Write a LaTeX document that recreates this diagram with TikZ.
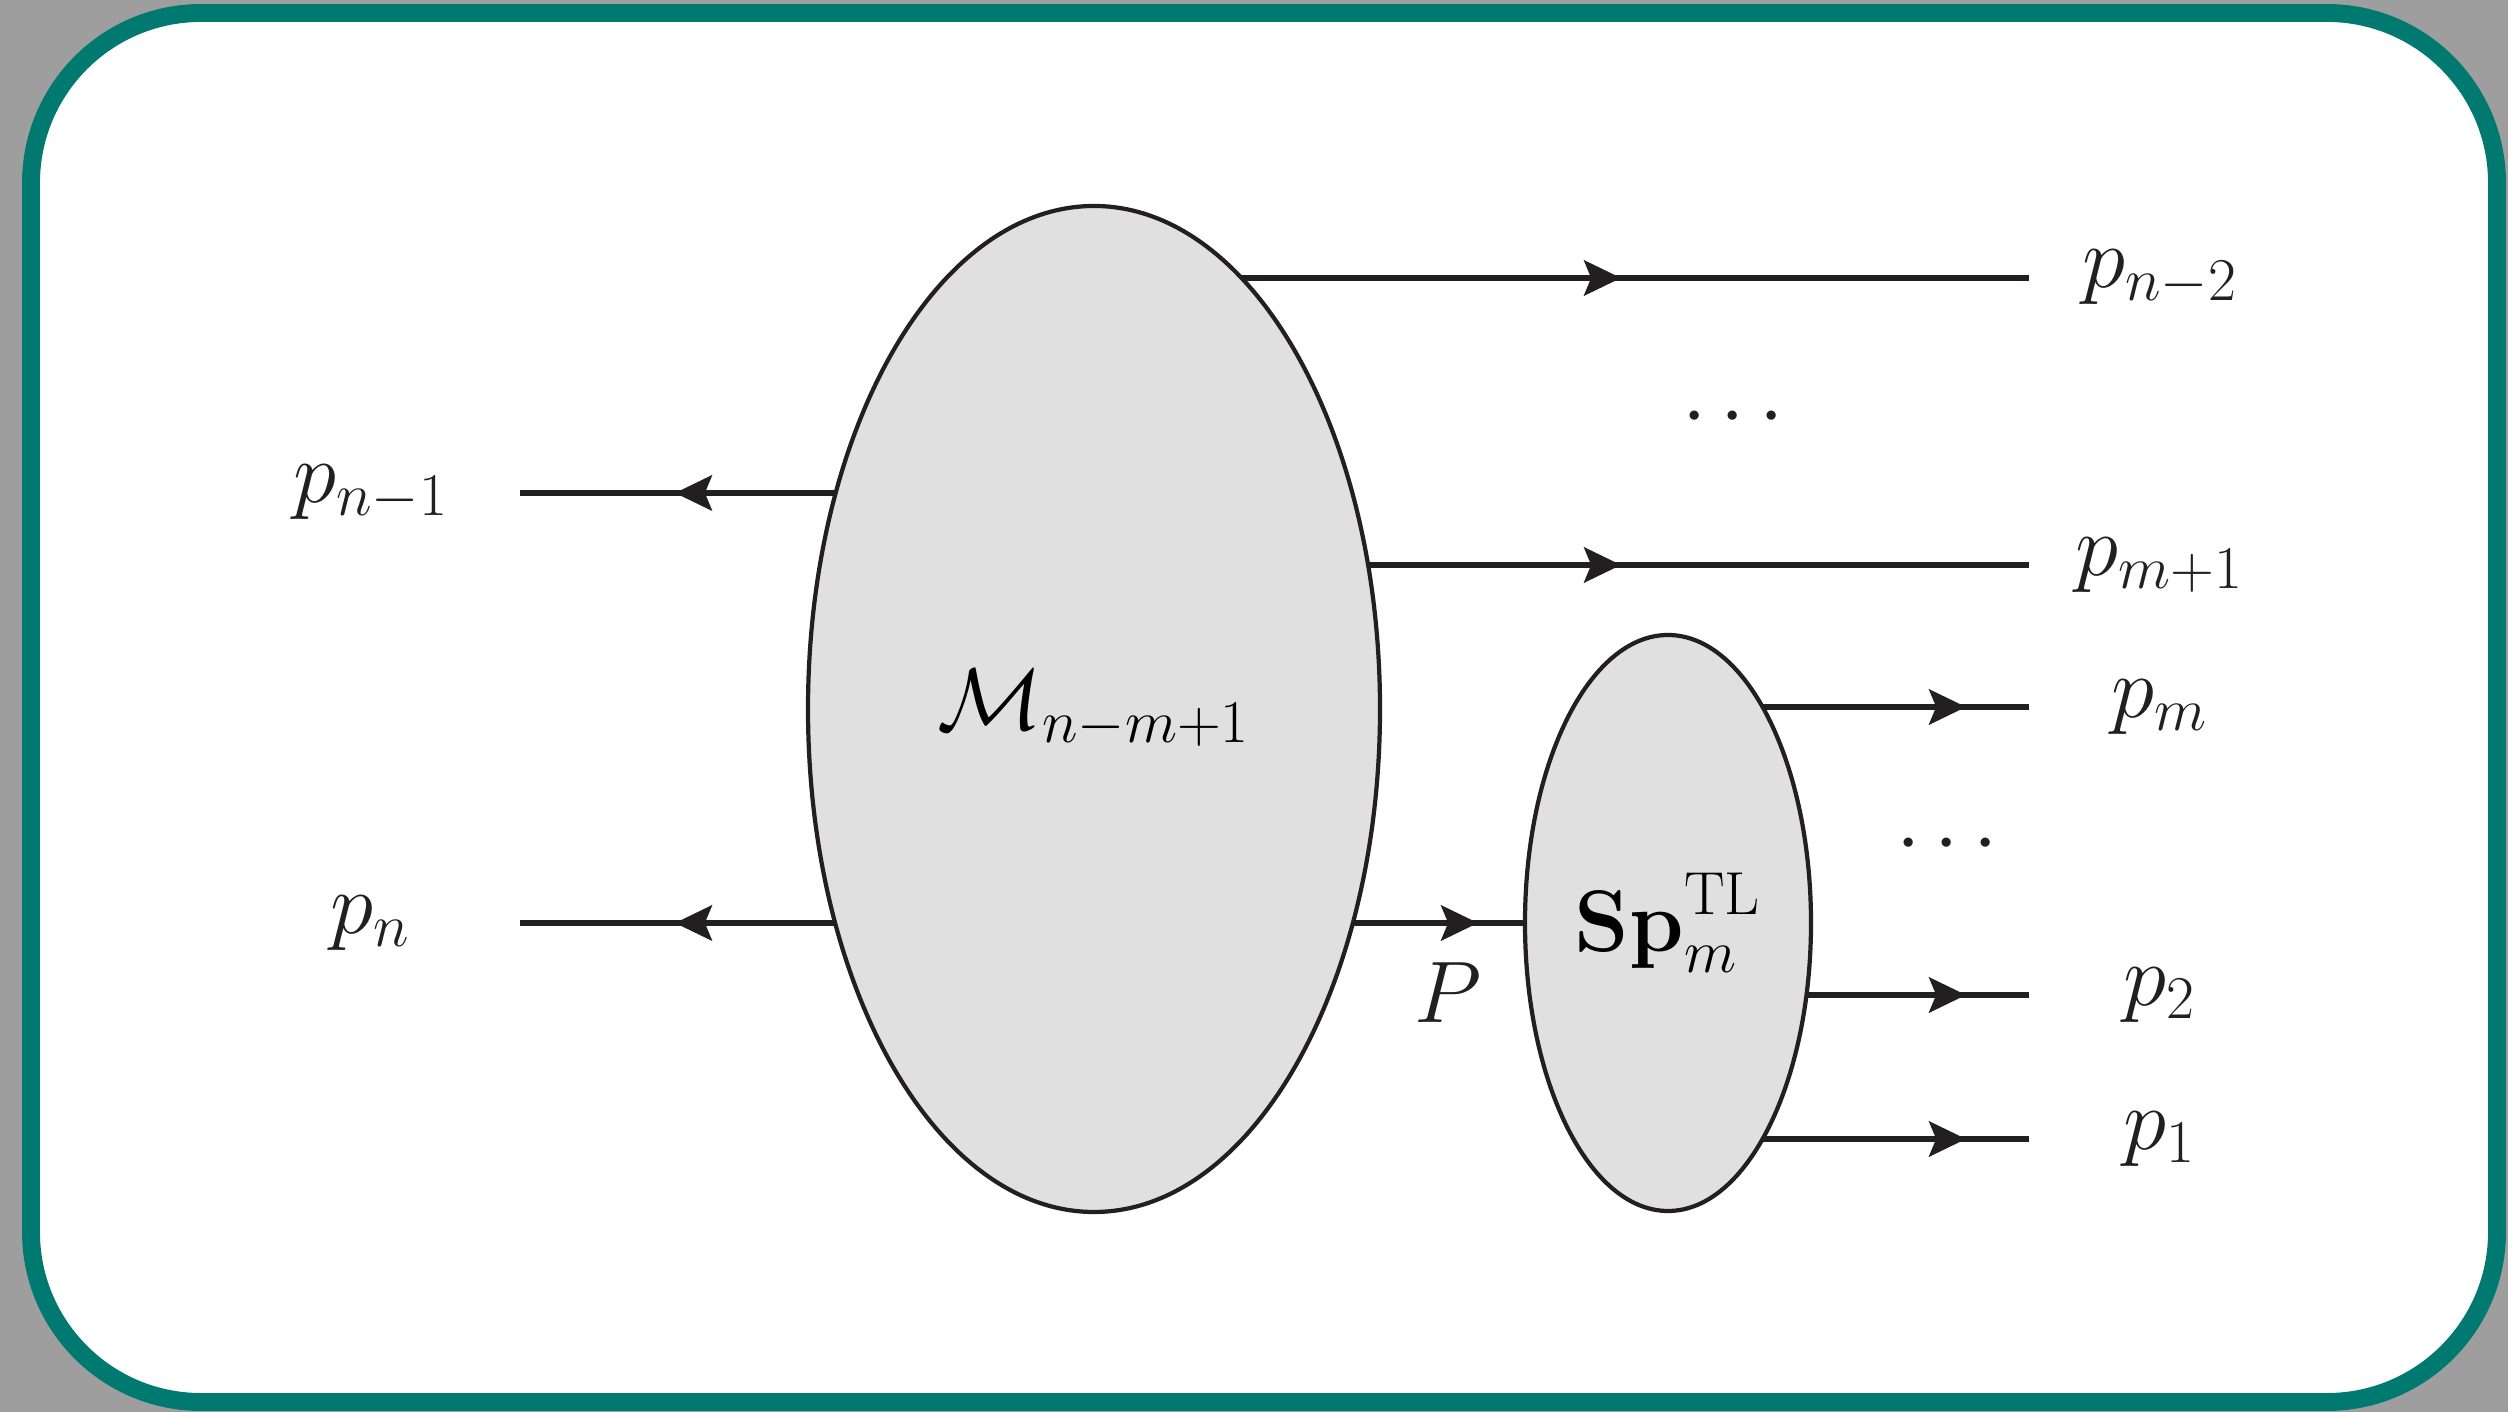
\documentclass[tikz,border=0pt]{standalone}
\usetikzlibrary{arrows.meta,shapes.geometric,decorations.markings,backgrounds}
\definecolor{ink}{HTML}{231F20}
\definecolor{blobfill}{HTML}{E0E0E0}
\definecolor{tealframe}{HTML}{007A70}
\definecolor{outside}{HTML}{9E9E9E}

\begin{document}
\begin{tikzpicture}[
  >=Stealth,
  blob/.style={ellipse, draw=ink, line width=1.2pt, fill=blobfill, inner sep=0pt, font=\fontsize{25}{30}\selectfont},
  lbl/.style={font=\fontsize{25}{30}\selectfont, text=ink},
  leg/.style={draw=ink, line width=1.6pt},
  tipat/.style={postaction={decorate}, decoration={markings, mark=at position #1 with {\arrow{Stealth[length=10.5pt,width=10pt,inset=2pt]}}}},
]

\node[blob, minimum width=5.72cm, minimum height=10.06cm] (M) at (10.94, 7.03) {$\mathcal{M}_{n-m+1}$};
\node[blob, minimum width=2.86cm, minimum height=5.76cm] (Sp) at (16.68, 4.89) {$\mathbf{Sp}_m^{\mathrm{TL}}$};

\coordinate (r1) at (20.29, 11.34);
\coordinate (r2) at (20.29, 8.47);
\coordinate (r3) at (20.29, 7.05);
\coordinate (r4) at (20.29, 4.17);
\coordinate (r5) at (20.29, 2.73);
\coordinate (l1) at (5.20, 9.19);
\coordinate (l2) at (5.20, 4.89);

\node[lbl] (pnm2) at (21.60, 11.34) {$p_{n-2}$};
\node[lbl] (pmp1) at (21.60, 8.47) {$p_{m+1}$};
\node[lbl] (pm) at (21.60, 7.05) {$p_m$};
\node[lbl] (p2) at (21.60, 4.17) {$p_2$};
\node[lbl] (p1) at (21.60, 2.73) {$p_1$};
\node[lbl] (pnm1) at (3.71, 9.19) {$p_{n-1}$};
\node[lbl] (pn) at (3.71, 4.89) {$p_n$};
\node[lbl] (Plbl) at (14.48, 4.19) {$P$};
\node[lbl] (dotsup) at (17.33, 9.94) {$\cdots$};
\node[lbl] (dotsdown) at (19.47, 5.67) {$\cdots$};

\begin{scope}[on background layer]
  \fill[outside] (0,0) rectangle (25.08,14.12);
  \draw[tealframe, line width=5.1pt, fill=white, rounded corners=1.7cm] (0.31,0.10) rectangle (24.97,13.99);

  % legs start inside the blobs, the fill hides that part
  \draw[leg, tipat=-4.08cm] (M.center |- r1) -- (r1);
  \draw[leg, tipat=-4.08cm] (M.center |- r2) -- (r2);
  \draw[leg, tipat=-1.55cm] (M.center |- l1) -- (l1);
  \draw[leg, tipat=-1.55cm] (M.center |- l2) -- (l2);
  \draw[leg, tipat=-1.90cm] (M.center |- Sp.center) -- (Sp.center);
  \draw[leg, tipat=-0.63cm] (Sp.center |- r3) -- (r3);
  \draw[leg, tipat=-0.63cm] (Sp.center |- r4) -- (r4);
  \draw[leg, tipat=-0.63cm] (Sp.center |- r5) -- (r5);
\end{scope}

\end{tikzpicture}
\end{document}
